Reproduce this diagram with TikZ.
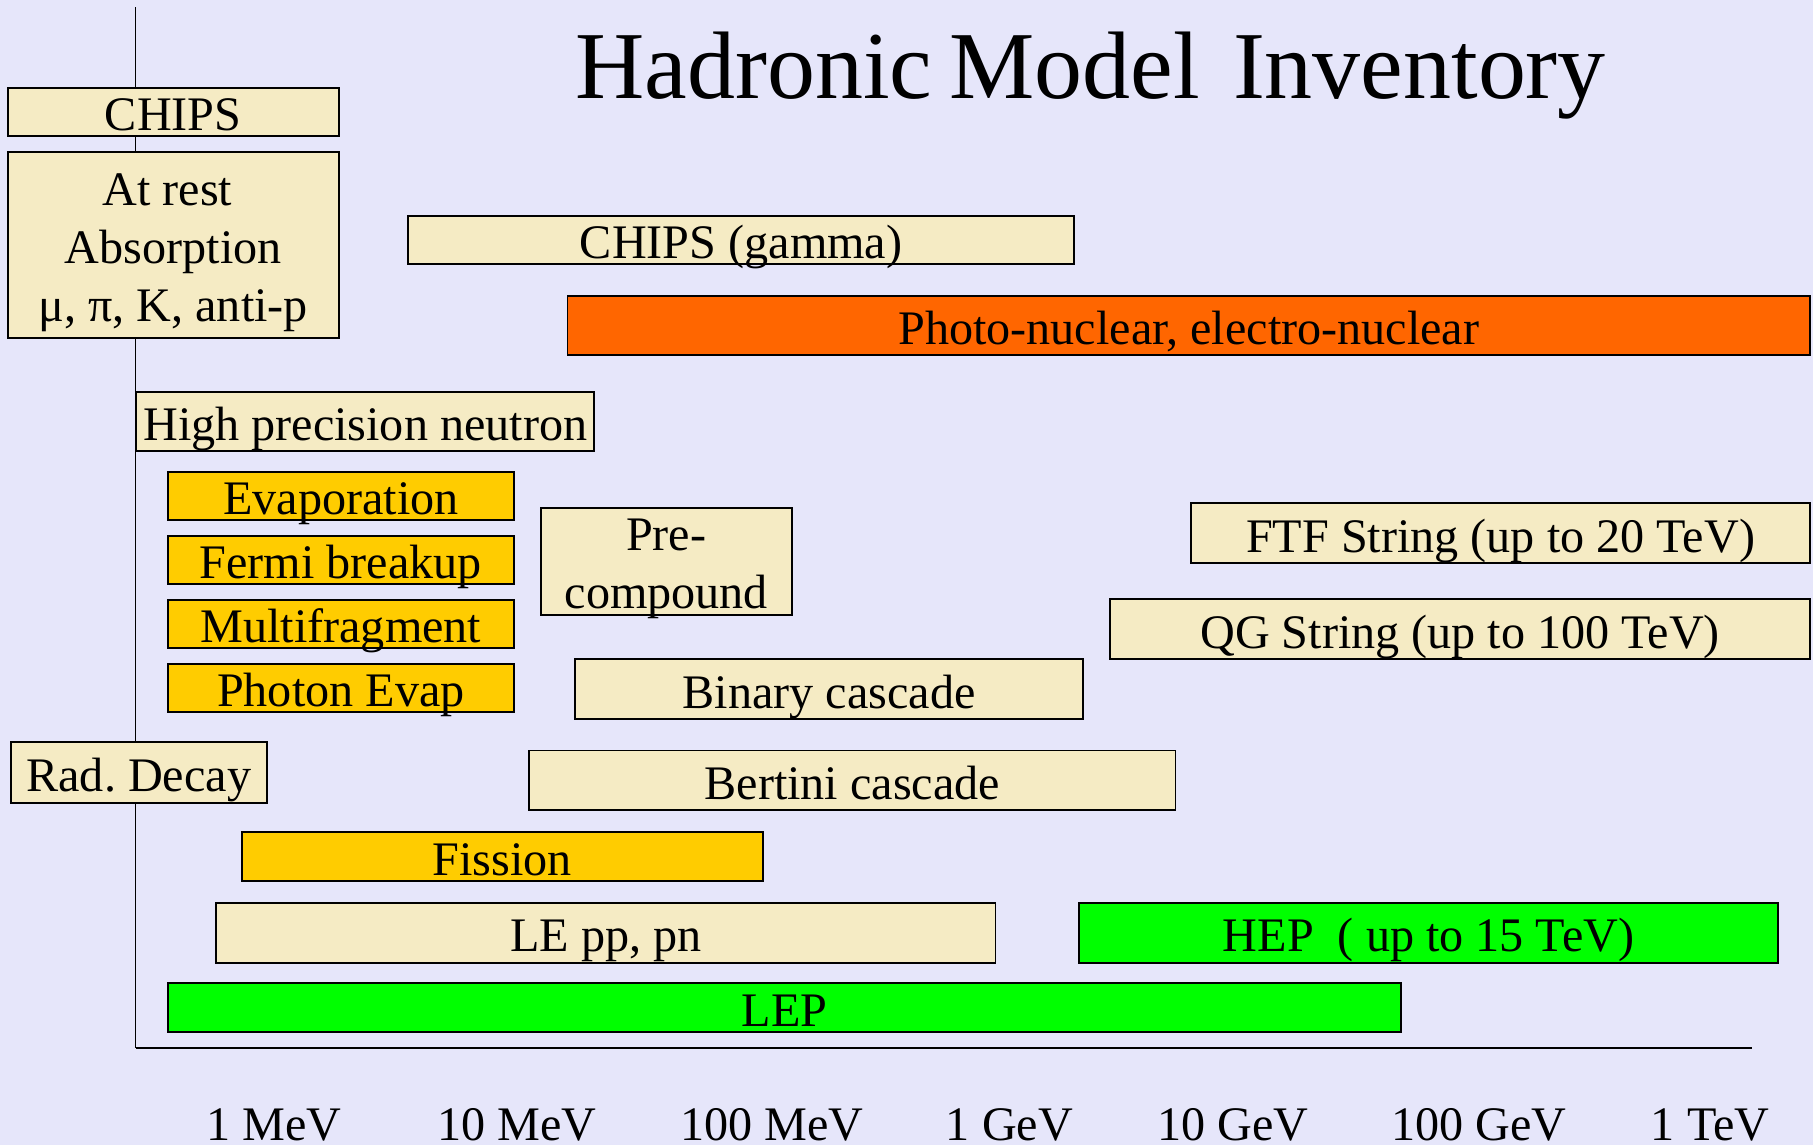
\documentclass[tikz,border=0pt]{standalone}
\usepackage{fontspec}
\setmainfont{Liberation Serif}
\usepackage{tikz}
\usepackage{xcolor}
\usetikzlibrary{positioning}

\definecolor{slidebg}{HTML}{E6E6FA}
\definecolor{modelbeige}{HTML}{F5EBC4}
\definecolor{modelorange}{HTML}{FF6600}
\definecolor{modelyellow}{HTML}{FFCC00}
\definecolor{modelgreen}{HTML}{00FF00}
\newcommand{\boxfont}{\fontsize{11.85}{14.3}\selectfont}
\newcommand{\titlefont}{\fontsize{23.6}{28}\selectfont}
\newcommand{\stack}[1]{\raisebox{-1.7pt}[\dimexpr\height-5pt][\dimexpr\depth-5pt]{\begin{tabular}{@{}c@{}}#1\end{tabular}}}
\frenchspacing

\begin{document}
\begin{tikzpicture}[
    modelbox/.style={draw=black, line width=0.45pt, fill=modelbeige, inner sep=0pt,
        font=\boxfont, text height=9.3pt, text depth=0pt},
    multibox/.style={draw=black, line width=0.45pt, fill=modelbeige, inner sep=0pt, font=\boxfont},
    axislabel/.style={font=\boxfont, anchor=base, inner sep=0pt}]
    % Slide
    \fill[slidebg] (0,0) rectangle (15.68,-9.90);
    \useasboundingbox (0,0) rectangle (15.68,-9.90);

    % Energy axes
    \coordinate (origin) at (1.175,-9.064);
    \coordinate (ytop) at (1.175,-0.063);
    \coordinate (xend) at (15.15,-9.064);
    \draw[line width=0.3pt] (ytop) -- (origin);
    \draw[line width=0.6pt] (origin) -- (xend);
    \foreach \x/\lab [count=\i] in {2.37/1 MeV, 4.47/10 MeV, 6.675/100 MeV, 8.73/1 GeV,
                                    10.665/10 GeV, 12.79/100 GeV, 14.79/1 TeV}
        \node[axislabel] (tick\i) at (\x,-9.86) {\lab};

    % Title
    \node[anchor=base west, inner sep=0pt, font=\titlefont] (title) at (4.97,-0.85)
        {Hadronic\hspace{-0.06cm} Model\hspace{0.08cm} Inventory};

    % Stopping and gamma
    \node[modelbox, minimum width=2.864cm, minimum height=0.418cm] (chips) at (1.498,-0.967) {CHIPS};
    \node[multibox, minimum width=2.864cm, minimum height=1.614cm] (atrest) at (1.498,-2.119)
        {\stack{At rest\kern0.1cm\\Absorption\\μ, π, K, anti-p}};
    \node[modelbox, minimum width=5.76cm, minimum height=0.415cm] (chipsgamma) at (6.41,-2.0755) {CHIPS (gamma)};
    \node[modelbox, fill=modelorange, minimum width=10.747cm, minimum height=0.51cm] (photonuc)
        at (10.2815,-2.815) {Photo-nuclear, electro-nuclear};
    \node[modelbox, minimum width=3.962cm, minimum height=0.513cm] (hpneutron) at (3.159,-3.6435)
        {High precision neutron};

    % De-excitation
    \foreach \name/\lab [count=\i from 0] in {evap/Evaporation, fermi/Fermi breakup,
                                              multifrag/Multifragment, photevap/Photon Evap}
        \node[modelbox, fill=modelyellow, minimum width=2.992cm, minimum height=0.417cm] (\name)
            at (2.948,{-4.2885-0.5535*\i}) {\lab};
    \node[multibox, minimum width=2.171cm, minimum height=0.929cm] (precomp) at (5.7625,-4.8545)
        {\stack{Pre-\\compound}};

    % Cascades and strings
    \node[modelbox, minimum width=5.349cm, minimum height=0.519cm] (ftf) at (12.9775,-4.6125)
        {FTF String (up to 20 TeV)};
    \node[modelbox, minimum width=6.049cm, minimum height=0.519cm] (qgs) at (12.6275,-5.4425)
        {QG String (up to 100 TeV)};
    \node[modelbox, minimum width=4.394cm, minimum height=0.516cm] (binary) at (7.17,-5.96) {Binary cascade};
    \node[modelbox, minimum width=2.215cm, minimum height=0.528cm] (raddecay) at (1.2005,-6.684) {Rad. Decay};
    \node[modelbox, minimum width=5.59cm, minimum height=0.515cm] (bertini) at (7.371,-6.7475) {Bertini cascade};
    \node[modelbox, fill=modelyellow, minimum width=4.51cm, minimum height=0.424cm] (fission)
        at (4.345,-7.405) {Fission};

    % Parameterised
    \node[modelbox, minimum width=6.74cm, minimum height=0.513cm] (lepp) at (5.24,-8.0695) {LE pp, pn};
    \node[modelbox, fill=modelgreen, minimum width=6.05cm, minimum height=0.513cm] (hep)
        at (12.355,-8.0695) {HEP~~( up to 15 TeV)};
    \node[modelbox, fill=modelgreen, minimum width=10.67cm, minimum height=0.421cm] (lep)
        at (6.785,-8.7155) {LEP};
\end{tikzpicture}
\end{document}
